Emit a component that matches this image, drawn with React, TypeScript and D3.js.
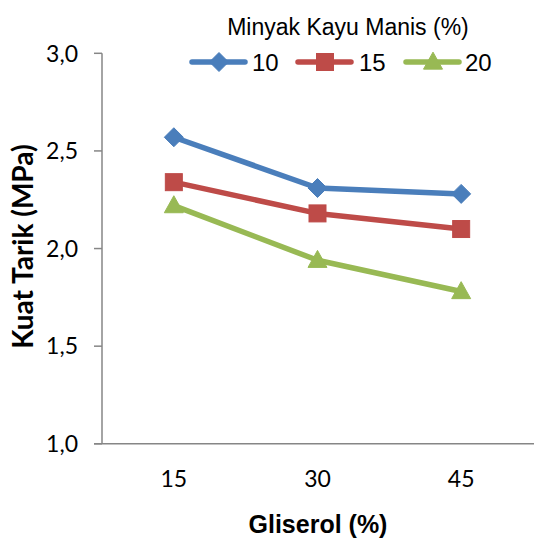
import React from "react";
import * as d3 from "d3";

const categories = ["15", "30", "45"];
const seriesNames = ["10", "15", "20"];
const values10 = [2.57, 2.31, 2.28];
const values15 = [2.34, 2.18, 2.1];
const values20 = [2.22, 1.94, 1.78];
const yTicks = [1.0, 1.5, 2.0, 2.5, 3.0];
const colors = ["#4A7EBB", "#BE4B48", "#98B954"];
const shapes = ["diamond", "square", "triangle"];

const W = 534;
const H = 540;
const left = 102;
const right = 533;
const top = 53.3;
const bottom = 443.8;

function Marker({ shape, x, y, color }: { shape: string; x: number; y: number; color: string }) {
  if (shape === "diamond") {
    const r = 9.5;
    return <path d={`M${x},${y - r}L${x + r},${y}L${x},${y + r}L${x - r},${y}Z`} fill={color} stroke={color} strokeWidth={1} />;
  }
  if (shape === "square") {
    const s = 8.5;
    return <rect x={x - s} y={y - s} width={2 * s} height={2 * s} fill={color} stroke={color} strokeWidth={1} />;
  }
  const h = 17;
  const w = 19;
  return <path d={`M${x},${y - h * 0.58}L${x + w / 2},${y + h * 0.42}L${x - w / 2},${y + h * 0.42}Z`} fill={color} stroke={color} strokeWidth={1} strokeLinejoin="round" />;
}

export default function App() {
  const x = d3.scaleBand<string>().domain(categories).range([left, right]);
  const y = d3.scaleLinear().domain([1, 3]).range([bottom, top]);
  const series = [values10, values15, values20];
  const line = d3
    .line<number>()
    .x((_, i) => (x(categories[i]) as number) + x.bandwidth() / 2)
    .y((d) => y(d));
  const tickFmt = (v: number) => d3.format(".1f")(v).replace(".", ",");
  const axisColor = "#868686";
  const tickFont = "Lato, 'Open Sans', sans-serif";

  const legendItems = [
    { lx: 192, tx: 252 },
    { lx: 298, tx: 359 },
    { lx: 406, tx: 465 },
  ];
  const legendY = 62;

  return (
    <svg width={W} height={H} style={{ position: "absolute", left: 0, top: 0, background: "#fff" }}>
      {/* y axis */}
      <line x1={left} x2={left} y1={top} y2={bottom} stroke={axisColor} strokeWidth={1.5} />
      {yTicks.map((t) => (
        <g key={t}>
          <line x1={left - 8} x2={left} y1={y(t)} y2={y(t)} stroke={axisColor} strokeWidth={1.5} />
          <text x={78} y={y(t)} dy="0.36em" textAnchor="end" fontFamily={tickFont} fontSize={23} fill="#000">
            {tickFmt(t)}
          </text>
        </g>
      ))}
      {/* x axis */}
      <line x1={left - 8} x2={W} y1={bottom} y2={bottom} stroke={axisColor} strokeWidth={1.5} />
      {categories.map((c) => (
        <text key={c} x={(x(c) as number) + x.bandwidth() / 2} y={487} textAnchor="middle" fontFamily={tickFont} fontSize={23} fill="#000">
          {c}
        </text>
      ))}
      {/* titles */}
      <text x={318} y={533} textAnchor="middle" fontFamily="'Liberation Sans', Arial, sans-serif" fontWeight="bold" fontSize={25} fill="#000">
        Gliserol (%)
      </text>
      <text transform={`translate(33,246.5) rotate(-90)`} textAnchor="middle" fontFamily="Lato, 'Open Sans', sans-serif" fontWeight="bold" fontSize={28} fill="#000">
        Kuat Tarik (MPa)
      </text>
      {/* series */}
      {series.map((vals, si) => (
        <g key={si}>
          <path d={line(vals) as string} fill="none" stroke={colors[si]} strokeWidth={5.5} strokeLinejoin="round" strokeLinecap="round" />
          {vals.map((v, i) => (
            <Marker key={i} shape={shapes[si]} x={(x(categories[i]) as number) + x.bandwidth() / 2} y={y(v)} color={colors[si]} />
          ))}
        </g>
      ))}
      {/* legend */}
      <text x={348} y={34.5} textAnchor="middle" fontFamily="'Liberation Sans', Arial, sans-serif" fontSize={23} fill="#000">
        Minyak Kayu Manis (%)
      </text>
      {legendItems.map((it, i) => (
        <g key={i}>
          <line x1={it.lx} x2={it.lx + 53} y1={legendY} y2={legendY} stroke={colors[i]} strokeWidth={5.5} strokeLinecap="round" />
          <Marker shape={shapes[i]} x={it.lx + 27} y={legendY} color={colors[i]} />
          <text x={it.tx} y={legendY} dy="0.36em" fontFamily="'Liberation Sans', Arial, sans-serif" fontSize={24} fill="#000">
            {seriesNames[i]}
          </text>
        </g>
      ))}
    </svg>
  );
}
